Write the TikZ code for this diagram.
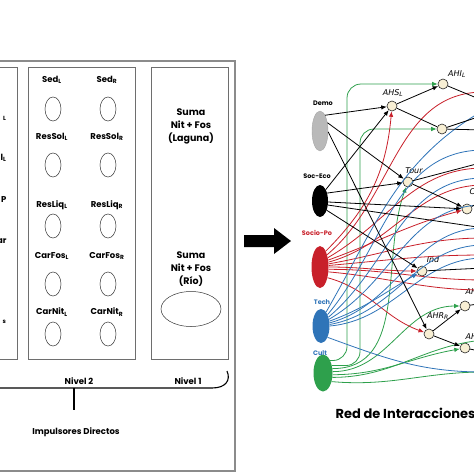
\documentclass[tikz,border=0pt]{standalone}
\usepackage{fontspec}
\setmainfont{Poppins}
\newfontfamily\netfont{DejaVu Sans}
\usetikzlibrary{shapes.geometric,arrows.meta}

\definecolor{redn}{HTML}{C8202A}
\definecolor{bluen}{HTML}{2F74B8}
\definecolor{greenn}{HTML}{2EA04C}
\definecolor{cream}{HTML}{F8EFD4}
\definecolor{frame}{HTML}{6E6E6E}

\tikzset{
  panel/.style={draw=frame, line width=0.9pt},
  pool/.style={ellipse, draw=black!80, line width=0.5pt, minimum width=16pt, minimum height=24pt, inner sep=0pt},
  lbl/.style={font=\bfseries\fontsize{8.5}{13}\selectfont, align=center},
  driver/.style={ellipse, inner sep=0pt},
  dlbl/.style={font=\bfseries\fontsize{6.5}{7}\selectfont},
  var/.style={circle, draw=black!85, line width=0.6pt, fill=cream, minimum size=10pt, inner sep=0pt},
  vlbl/.style={font=\netfont\itshape\fontsize{8}{9}\selectfont},
  blk/.style={black, line width=0.8pt},
  rd/.style={redn, line width=0.8pt},
  bl/.style={bluen, line width=0.8pt},
  gn/.style={greenn, line width=0.8pt}
}

\begin{document}
\begin{tikzpicture}[x=1pt,y=1pt,>={Latex[length=5.5pt,width=4.5pt]}]
	\useasboundingbox (0,0) rectangle (474,-474);
	\clip (0,0) rectangle (474,-474);

	% left panel: frames
	\draw[panel, line width=1.2pt, draw=frame!80] (-5,-61) rectangle (235,-471);
	\draw[panel] (-5,-67) rectangle (17,-359);
	\draw[panel] (28,-67) rectangle (135,-359);
	\draw[panel] (151,-67) rectangle (228,-359);

	% cut labels of the first box
	\begin{scope}
		\clip (-5,-67) rectangle (16,-359);
		\foreach \y/\t in {118/\textsubscript{L}, 158/l\textsubscript{L}, 200/P, 241/ar, 322/\textsubscript{s}}
			\node[lbl, anchor=east] (cut\y) at (10,-\y) {\t};
	\end{scope}

	% pools of the second box
	\foreach \n/\y/\ly in {Sed/109/80, ResSol/165/137, ResLiq/226/205, CarFos/284/256, CarNit/334/312} {
		\node[lbl] (\n L) at (52,-\ly) {\n\textsubscript{L}};
		\node[lbl] (\n R) at (107,-\ly) {\n\textsubscript{R}};
		\node[pool] (p\n L) at (53,-\y) {};
		\node[pool] (p\n R) at (108,-\y) {};
	}

	% third box
	\node[lbl, font=\bfseries\fontsize{9.5}{13}\selectfont] (laguna) at (191,-126) {Suma\\Nit + Fos\\(Laguna)};
	\node[lbl, font=\bfseries\fontsize{9.5}{13}\selectfont] (rio) at (191,-269) {Suma\\Nit + Fos\\(Río)};
	\node[pool, minimum width=60pt, minimum height=35pt] (prio) at (191,-309) {};

	% levels
	\draw[line width=1.1pt] (-5,-388) -- (212,-388) .. controls (226,-388) and (231,-380) .. (227,-371);
	\draw[line width=1.1pt] (74,-388) -- (74,-410);
	\node[lbl] (niv2) at (79,-381) {Nivel 2};
	\node[lbl] (niv1) at (188,-381) {Nivel 1};
	\node[lbl] (impd) at (76,-432) {Impulsores Directos};

	% big arrow
	\fill (244,-235) -- (274,-235) -- (274,-228) -- (291,-241) -- (274,-254) -- (274,-247) -- (244,-247) -- cycle;

	% drivers
	\node[driver, fill=gray!55, draw=gray!70, minimum width=16pt, minimum height=40pt] (demo) at (320,-131) {};
	\node[driver, fill=black, minimum width=16pt, minimum height=32pt] (soceco) at (320,-201) {};
	\node[driver, fill=redn, minimum width=17pt, minimum height=42pt] (sociopo) at (320,-267) {};
	\node[driver, fill=bluen, minimum width=17pt, minimum height=34pt] (tech) at (321,-326) {};
	\node[driver, fill=greenn, minimum width=19pt, minimum height=37pt] (cult) at (323,-373) {};
	\node[dlbl] (demol) at (323,-103) {Demo};
	\node[dlbl] (socecol) at (317,-176) {Soc-Eco};
	\node[dlbl, text=redn] (sociopol) at (317,-233) {Socio-Po};
	\node[dlbl, text=bluen] (techl) at (322,-302) {Tech};
	\node[dlbl, text=bluen] (cultl) at (320,-353) {Cult};

	% variables
	\foreach \n/\x/\y in {ahsl/392/106, ahil/443/84, ahx/442/129, tour/408/182, cnod/467/209, ind/422/271, ahu/465/306, ahr/429/334, ahd/465/348}
		\node[var] (\n) at (\x,-\y) {};
	\node[vlbl] (ahsll) at (393,-93) {AHS\textsubscript{L}};
	\node[vlbl] (ahill) at (457,-74) {AHI\textsubscript{L}};
	\node[vlbl] (tourl) at (414,-171) {Tour};
	\node[vlbl, anchor=west] (cnodl) at (466,-192) {C};
	\node[vlbl] (indl) at (433,-260) {Ind};
	\node[vlbl, anchor=west] (ahul) at (462,-292) {AH};
	\node[vlbl] (ahrl) at (438,-316) {AHR\textsubscript{R}};
	\node[vlbl, anchor=west] (ahdl) at (462,-337) {AH};

	% free ends on the right
	\foreach \n/\y in {a/92, b/101, c/115, d/130, e/162, f/168, g/185, h/200, i/228, j/238, k/255, l/268, m/280, n/290, o/303, p/352, q/110, r/150, s/178, t/205, u/245, v/258, w/372, x/340}
		\coordinate (o\n) at (484,-\y);

	% green links
	\draw[gn, ->, rounded corners=14pt] (cult.60) -| (347,-84) -- (ahil);
	\draw[gn, ->, rounded corners=14pt] (cult.40) -| (360,-129) -- (ahx);
	\draw[gn, ->] (cult.25) to[out=0, in=-110] (tour);
	\draw[gn, ->] (cult.8) to[out=0, in=180] (ahu);
	\draw[gn, ->] (cult.-10) to[out=0, in=190] (ahd);
	\draw[gn] (cult.-25) to[out=0, in=185] (ox);
	\draw[gn] (cult.-45) to[out=-5, in=180] (ow);

	% red links
	\draw[rd, ->] (sociopo.70) to[out=45, in=-95] (ahsl);
	\foreach \a/\o/\t in {60/40/oa, 50/30/of, 30/15/og, 20/10/oj, 10/5/ok, -15/0/om, -30/-5/on}
		\draw[rd] (sociopo.\a) to[out=\o, in=180] (\t);
	\draw[rd, ->] (sociopo.40) to[out=20, in=195] (cnod);
	\draw[rd, ->] (sociopo.0) to[out=0, in=180] (ind);
	\draw[rd, ->] (sociopo.-55) to[out=-15, in=160] (ahr);

	% blue links
	\draw[bl] (tech.70) to[out=60, in=-150] (oq);
	\foreach \a/\o/\t in {60/50/or, 50/40/os, 40/30/ot, 20/15/oi, 10/10/ou, 0/5/ov}
		\draw[bl] (tech.\a) to[out=\o, in=180] (\t);
	\draw[bl, ->] (tech.30) to[out=20, in=-150] (ind);
	\draw[bl] (tech.-60) to[out=-20, in=180] (ow);

	% black links
	\draw[blk, ->] (demo.72) -- (ahsl);
	\draw[blk, ->] (demo.48) -- (tour);
	\draw[blk, ->] (demo.-6) -- (ahr);
	\draw[blk, ->] (soceco.63) -- (ahsl);
	\draw[blk, ->] (soceco.48) -- (tour);
	\draw[blk, ->] (soceco.-7) -- (cnod);
	\draw[blk] (soceco.-27) -- (oi);
	\draw[blk, ->] (soceco.-54) -- (ind);
	\draw[blk, ->] (ahsl) -- (ahil);
	\draw[blk] (ahsl) -- (ahx);
	\draw[blk] (ahil) -- (ob);
	\draw[blk] (ahx) -- (oc);
	\draw[blk] (ahx) -- (od);
	\draw[blk] (tour) -- (oe);
	\draw[blk, ->] (tour) -- (cnod);
	\draw[blk] (cnod) -- (oh);
	\draw[blk] (ind) -- (ol);
	\draw[blk, ->] (ahr) -- (ahu);
	\draw[blk, ->] (ahr) -- (ahd);
	\draw[blk] (ahu) -- (oo);
	\draw[blk] (ahd) -- (op);

	% caption of the network
	\node[font=\bfseries\fontsize{13}{14}\selectfont, anchor=west] (red) at (332,-413) {Red de Interacciones};
\end{tikzpicture}
\end{document}
